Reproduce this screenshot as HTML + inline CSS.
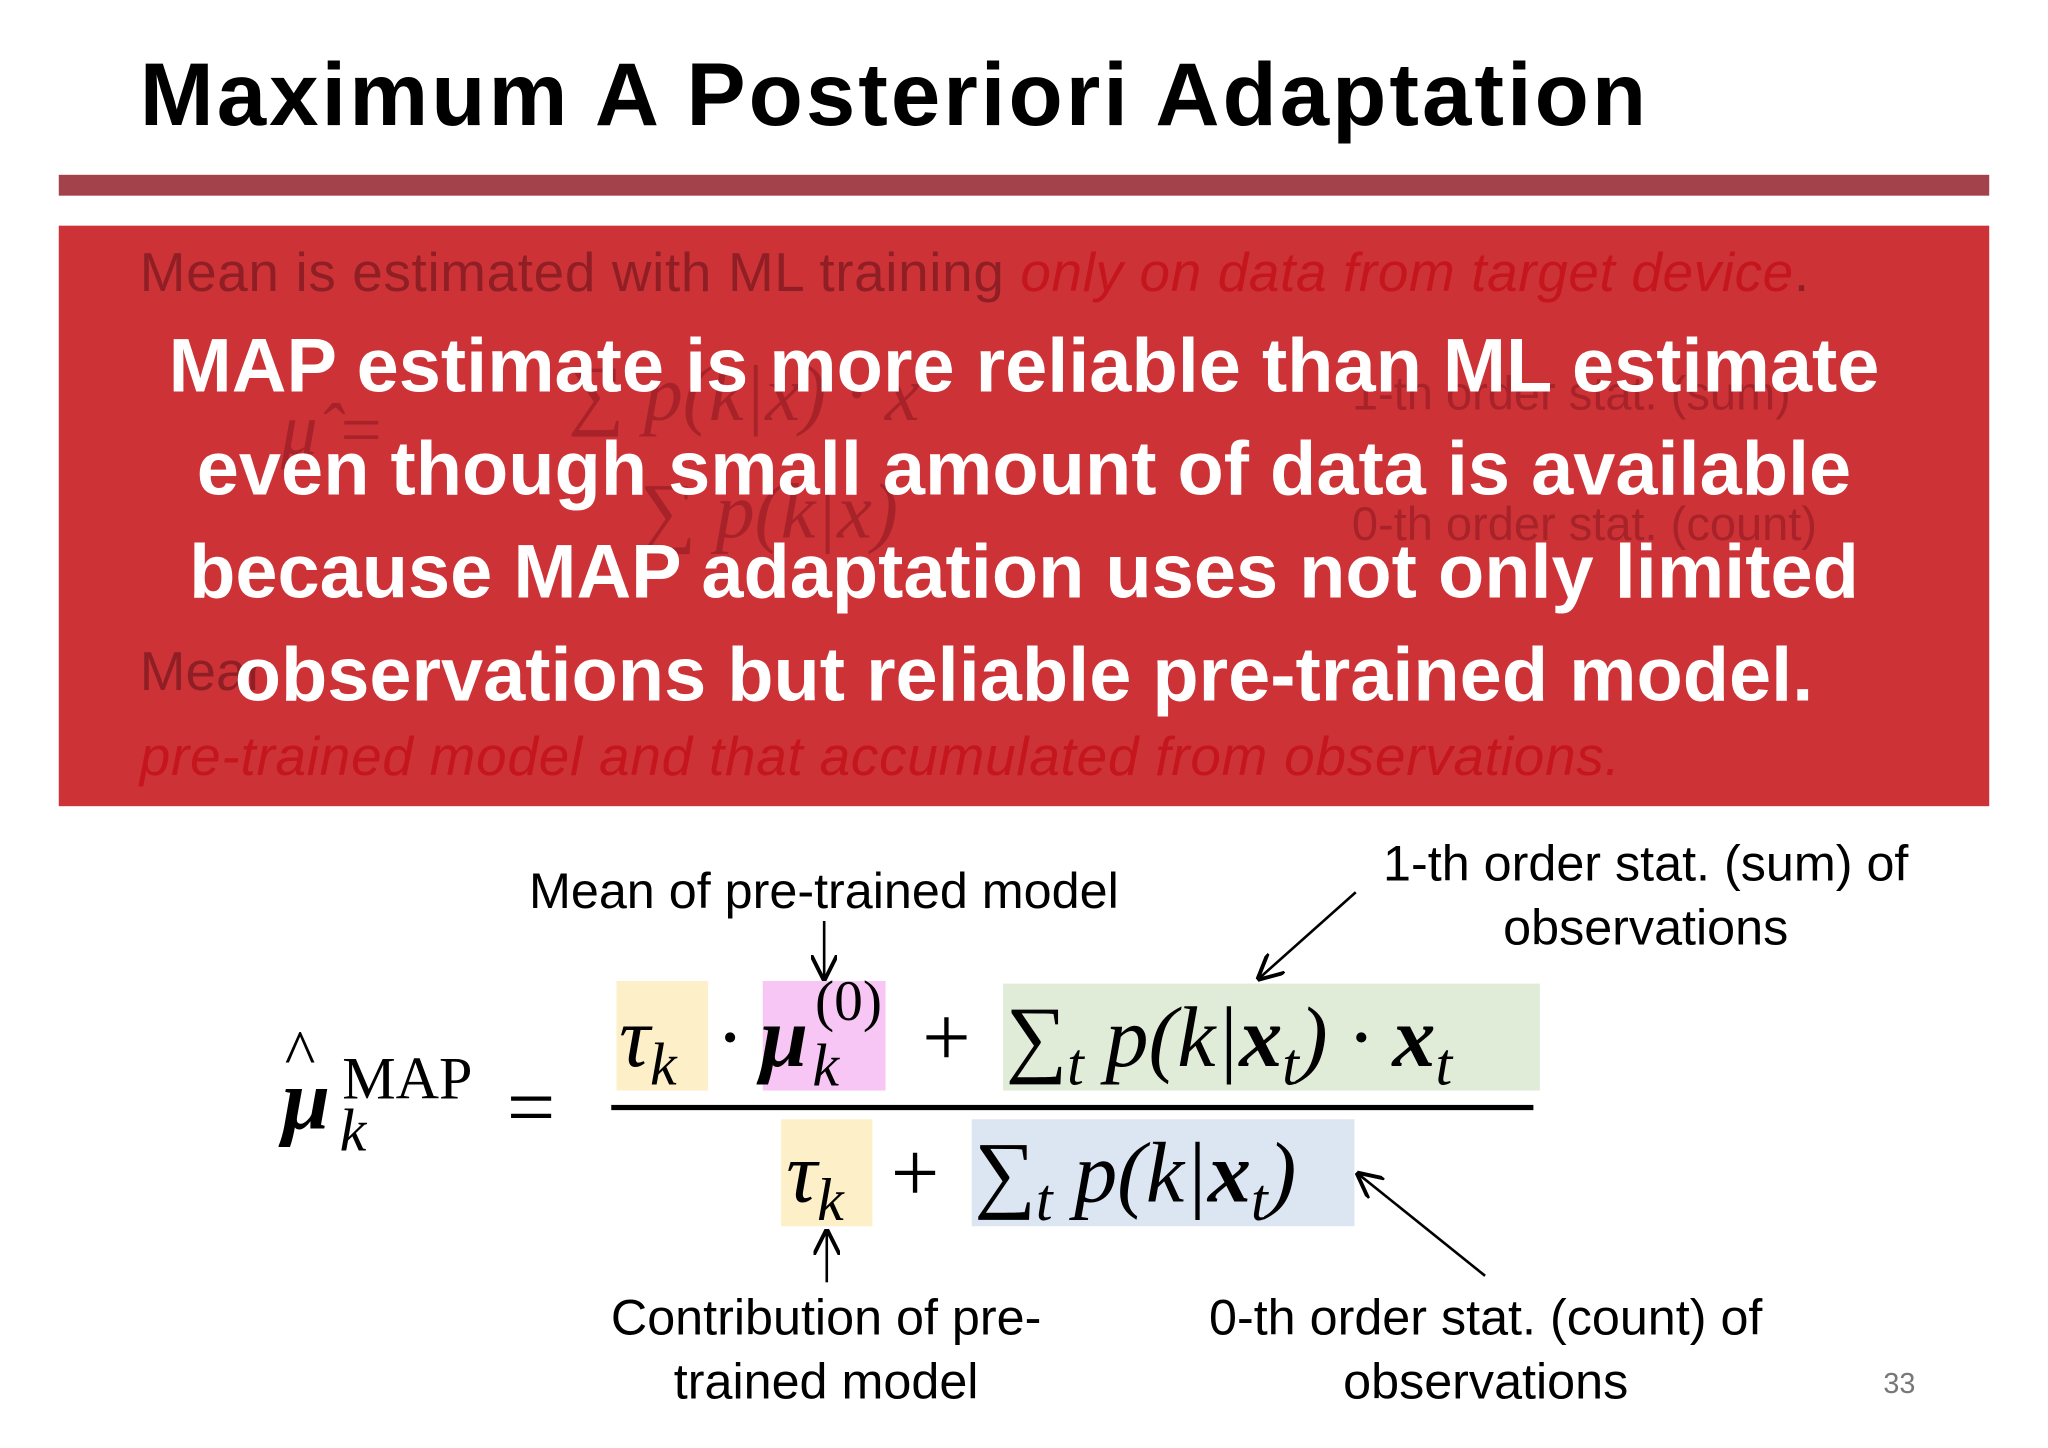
<!DOCTYPE html>
<html><head><meta charset="utf-8">
<style>
html,body{margin:0;padding:0;background:#fff;overflow:hidden}
#s{position:absolute;left:0;top:0;width:1568px;height:1110px;transform:scale(1.30612,1.3045);transform-origin:0 0;font-family:"Liberation Sans",sans-serif}
.a{position:absolute;white-space:nowrap}
.m{font-family:"Liberation Serif",serif;font-style:italic}
.hl{position:absolute}
</style></head><body>
<div id="s">
<div class="a" style="left:107px;top:34px;font-size:68px;font-weight:bold;color:#000;letter-spacing:2.3px">Maximum A Posteriori Adaptation</div>
<div class="a" style="left:45px;top:134px;width:1478px;height:16px;background:#a3424a"></div>

<div class="a" style="left:45px;top:173px;width:1478px;height:445px;background:#cd3236">
 <div class="a" style="left:62px;top:12px;font-size:42px;color:#8f1f25;letter-spacing:0.5px">Mean is estimated with ML training <i style="color:#c4161c">only on data from target device</i>.</div>
 <div class="a m" style="left:170px;top:125px;font-size:56px;color:#a82329">μ̂ =</div>
 <div class="a m" style="left:390px;top:95px;font-size:60px;color:#a82329">∑ p(k|x) · x</div>
 <div class="a m" style="left:445px;top:185px;font-size:60px;color:#a82329">∑ p(k|x)</div>
 <div class="a" style="left:990px;top:108px;font-size:36px;color:#a82329">1-th order stat. (sum)</div>
 <div class="a" style="left:990px;top:208px;font-size:36px;color:#a82329">0-th order stat. (count)</div>
 <div class="a" style="left:62px;top:318px;font-size:42px;color:#8f1f25">Mean</div>
 <div class="a" style="left:62px;top:383px;font-size:42px;color:#c4161c;font-style:italic;letter-spacing:0.6px">pre-trained model and that accumulated from observations.</div>
 <div class="a" style="left:0;top:68px;width:1478px;text-align:center;white-space:normal;font-size:58px;font-weight:bold;color:#fff;line-height:79px">MAP estimate is more reliable than ML estimate<br>even though small amount of data is available<br>because MAP adaptation uses not only limited<br>observations but reliable pre-trained model.</div>
</div>

<div class="hl" style="left:472px;top:752px;width:70px;height:84px;background:#fdf0c8"></div>
<div class="hl" style="left:584px;top:752px;width:94px;height:84px;background:#f7c6f4"></div>
<div class="hl" style="left:768px;top:754px;width:411px;height:82px;background:#e0ecd8"></div>
<div class="hl" style="left:598px;top:858px;width:70px;height:82px;background:#fdf0c8"></div>
<div class="hl" style="left:744px;top:858px;width:293px;height:82px;background:#dce6f2"></div>

<div class="a m" style="left:216px;top:806px;font-size:66px;font-weight:bold">μ</div>
<div class="a" style="left:218px;top:778px;font-size:50px;font-family:'Liberation Serif',serif">^</div>
<div class="a" style="left:262px;top:800px;font-size:46px;font-family:'Liberation Serif',serif">MAP</div>
<div class="a m" style="left:260px;top:840px;font-size:46px">k</div>
<div class="a" style="left:388px;top:812px;font-size:66px;font-family:'Liberation Serif',serif">=</div>

<div class="a m" style="left:474px;top:758px;font-size:66px">τ<sub style="font-size:46px">k</sub></div>
<div class="a m" style="left:548px;top:758px;font-size:66px;font-style:normal">·</div>
<div class="a m" style="left:582px;top:758px;font-size:66px"><b>μ</b></div>
<div class="a m" style="left:622px;top:790px;font-size:46px">k</div>
<div class="a" style="left:624px;top:742px;font-size:44px;font-family:'Liberation Serif',serif">(0)</div>
<div class="a" style="left:706px;top:758px;font-size:66px;font-family:'Liberation Serif',serif">+</div>
<div class="a m" style="left:770px;top:758px;font-size:66px"><span style="font-style:normal">∑</span><sub style="font-size:46px">t</sub> p(k|<b>x</b><sub style="font-size:46px">t</sub>) · <b>x</b><sub style="font-size:46px">t</sub></div>
<div class="a" style="left:468px;top:847px;width:706px;height:4px;background:#000"></div>
<div class="a m" style="left:602px;top:862px;font-size:66px">τ<sub style="font-size:46px">k</sub></div>
<div class="a" style="left:682px;top:862px;font-size:66px;font-family:'Liberation Serif',serif">+</div>
<div class="a m" style="left:746px;top:862px;font-size:66px"><span style="font-style:normal">∑</span><sub style="font-size:46px">t</sub> p(k|<b>x</b><sub style="font-size:46px">t</sub>)</div>

<div class="a" style="left:405px;top:662px;font-size:38.5px">Mean of pre-trained model</div>
<div class="a" style="left:1040px;top:638px;width:440px;text-align:center;font-size:38.5px;line-height:49px">1-th order stat. (sum) of<br>observations</div>
<div class="a" style="left:450px;top:986px;width:365px;text-align:center;font-size:38.5px;line-height:49px">Contribution of pre-<br>trained model</div>
<div class="a" style="left:900px;top:986px;width:475px;text-align:center;font-size:38.5px;line-height:49px">0-th order stat. (count) of<br>observations</div>
<div class="a" style="left:1442px;top:1048px;font-size:22px;color:#777">33</div>

<svg class="a" style="left:0;top:0" width="1568" height="1110">
<defs><marker id="ah" markerWidth="10" markerHeight="10" refX="9" refY="5" orient="auto"><path d="M0,0 L10,5 L0,10" fill="none" stroke="#000" stroke-width="1.5"/></marker></defs>
<line x1="631" y1="706" x2="631" y2="750" stroke="#000" stroke-width="2" marker-end="url(#ah)"/>
<line x1="1038" y1="684" x2="964" y2="750" stroke="#000" stroke-width="2" marker-end="url(#ah)"/>
<line x1="633" y1="983" x2="633" y2="944" stroke="#000" stroke-width="2" marker-end="url(#ah)"/>
<line x1="1137" y1="978" x2="1040" y2="900" stroke="#000" stroke-width="2" marker-end="url(#ah)"/>
</svg>
</div>
</body></html>
